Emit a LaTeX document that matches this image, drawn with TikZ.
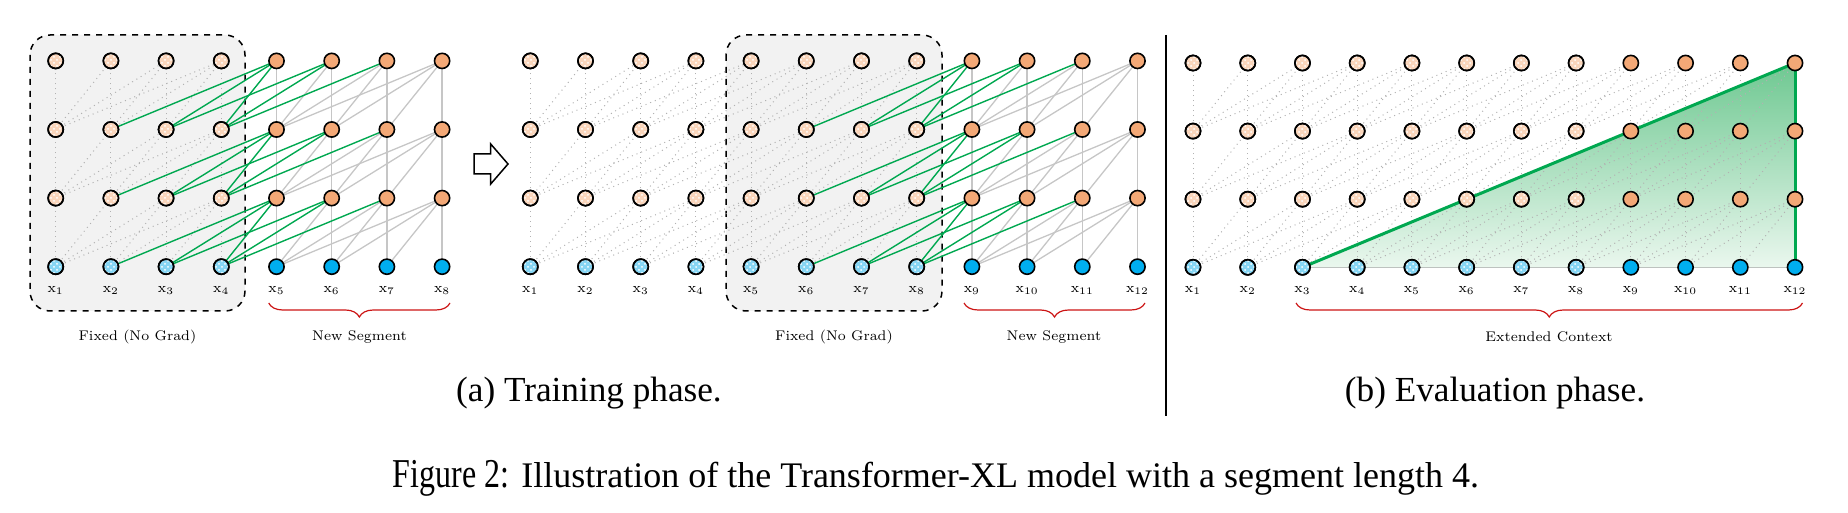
\documentclass[tikz,border=0pt]{standalone}
\usepackage{graphicx}
\usepackage{fontspec}
\newfontfamily\capfont{Liberation Serif}
\usetikzlibrary{patterns,decorations.pathreplacing}
\definecolor{nodeor}{RGB}{243,168,118}
\definecolor{nodebl}{RGB}{0,174,239}
\definecolor{fadeor}{RGB}{250,214,188}
\definecolor{fadebl}{RGB}{135,214,244}
\definecolor{edgegreen}{RGB}{0,168,80}
\definecolor{bracered}{RGB}{204,20,20}
\definecolor{boxgray}{RGB}{242,242,242}
\definecolor{tritop}{RGB}{110,200,145}
\definecolor{tribot}{RGB}{234,247,238}
\pgfdeclarelayer{back}
\pgfdeclarelayer{mid}
\pgfdeclarelayer{midtop}
\pgfsetlayers{back,mid,midtop,main}
\tikzset{
 neuron/.style={circle, draw=black, line width=0.8pt, minimum size=7.6pt, inner sep=0pt},
 hidsolid/.style={neuron, fill=nodeor},
 insolid/.style={neuron, fill=nodebl},
 hidfade/.style={neuron, fill=fadeor, postaction={pattern=crosshatch dots, pattern color=white}, postaction={draw=black, line width=0.8pt}},
 infade/.style={neuron, fill=fadebl, postaction={pattern=crosshatch dots, pattern color=white}, postaction={draw=black, line width=0.8pt}},
 dotedge/.style={draw=gray!60, dotted, line width=0.5pt},
 solidedge/.style={draw=gray!45, line width=0.65pt},
 greenedge/.style={draw=edgegreen, line width=0.7pt},
 tokenlabel/.style={font=\fontsize{7}{8}\selectfont, inner sep=0pt},
 groupbox/.style={draw=black, dashed, line width=0.75pt, fill=boxgray, rounded corners=10pt},
 grouptext/.style={font=\fontsize{7}{8}\selectfont, inner sep=0pt},
 redbrace/.style={draw=bracered, line width=0.6pt, decorate, decoration={brace, mirror, amplitude=7pt}},
 subcap/.style={font=\capfont\fontsize{17.6}{20}\selectfont, inner sep=0pt},
 figcap/.style={inner sep=0pt},
 triline/.style={draw=edgegreen, line width=1.5pt},
}
% nodes: #1 name, #2 x0, #3 dx, #4 ybottom, #5 dy, #6 N, #7 cut
\newcommand\panelnodes[7]{%
 \foreach \i in {1,...,#6}{%
   \pgfmathsetmacro\xx{#2+(\i-1)*#3}%
   \foreach \l in {0,...,3}{%
     \pgfmathsetmacro\yy{#4-\l*#5}%
     \ifnum\i>#7\relax
       \ifnum\l=0 \def\sty{insolid}\else\def\sty{hidsolid}\fi
     \else
       \ifnum\l=0 \def\sty{infade}\else\def\sty{hidfade}\fi
     \fi
     \node[\sty] (#1-\l-\i) at (\xx,\yy) {};
   }%
   \node[tokenlabel] (#1-lab-\i) at (\xx,290) {$\mathrm{x}_{\i}$};
 }%
}
% edges: #1 name, #2 N, #3 cut, #4 mode (0 train, 1 eval), #5 pass (0 plain, 1 green)
\newcommand\paneledges[5]{%
 \foreach \l in {1,2,3}{%
   \pgfmathtruncatemacro\lm{\l-1}%
   \foreach \i in {1,...,#2}{%
     \pgfmathtruncatemacro\jmin{max(1,\i-3)}%
     \foreach \j in {\jmin,...,\i}{%
       \def\esty{dotedge}\def\grn{0}%
       \ifnum#4=0
         \ifnum\i>#3\relax
           \ifnum\j>#3\relax \def\esty{solidedge}\else\def\esty{greenedge}\def\grn{1}\fi
         \fi
       \fi
       \ifnum\grn=#5\relax
         \draw[\esty] (#1-\lm-\j.center) -- (#1-\l-\i.center);
       \fi
     }%
   }%
 }%
}
\begin{document}
\begin{tikzpicture}[x=0.5pt,y=-0.5pt]
\useasboundingbox (0,0) rectangle (1848,513);

\panelnodes{A}{55.7}{55.2}{266.7}{68.6}{8}{4}
\panelnodes{B}{530.3}{55.2}{266.7}{68.6}{12}{8}
\panelnodes{C}{1193}{54.73}{267.3}{68.1}{12}{8}

\begin{pgfonlayer}{mid}
  \paneledges{A}{8}{4}{0}{0}
  \paneledges{B}{12}{8}{0}{0}
  \paneledges{C}{12}{8}{1}{0}
\end{pgfonlayer}
\begin{pgfonlayer}{midtop}
  \paneledges{A}{8}{4}{0}{1}
  \paneledges{B}{12}{8}{0}{1}
  \draw[triline] (C-0-3.center) -- (C-3-12.center);
  \draw[triline] (C-3-12.center) -- (C-0-12.center);
\end{pgfonlayer}
\begin{pgfonlayer}{back}
  \draw[groupbox] (30,35) rectangle (245,311);
  \draw[groupbox] (726,35) rectangle (942,311);
  \fill[top color=tritop, bottom color=tribot] (C-0-3.center) -- (C-3-12.center) -- (C-0-12.center) -- cycle;
\end{pgfonlayer}

\node[grouptext] (fixA) at (137.5,337) {Fixed (No Grad)};
\node[grouptext] (newA) at (359.5,337) {New Segment};
\node[grouptext] (fixB) at (834,337) {Fixed (No Grad)};
\node[grouptext] (newB) at (1054,337) {New Segment};
\node[grouptext] (extC) at (1549,337) {Extended Context};

\draw[redbrace] (268.7,303) -- (450,303);
\draw[redbrace] (964,303) -- (1145,303);
\draw[redbrace] (1296,303) -- (1802.5,303);

% transition arrow
\draw[line width=0.75pt, fill=white, line join=miter] (474,154) -- (490.7,154) -- (490.7,144) -- (508,164) -- (490.7,184) -- (490.7,174) -- (474,174) -- cycle;

% separator
\draw[line width=0.9pt] (1166,35) -- (1166,416);

\node[subcap] (capa) at (589,393) {(a) Training phase.};
\node[subcap] (capb) at (1495,393) {(b) Evaluation phase.};
\node[figcap] (figcap) at (936,478) {\scalebox{0.78}[1]{\capfont\fontsize{20.5}{23}\selectfont Figure 2:}\hspace{6pt}{\capfont\fontsize{18}{21}\selectfont Illustration of the Transformer-XL model with a segment length 4.}};
\end{tikzpicture}
\end{document}
